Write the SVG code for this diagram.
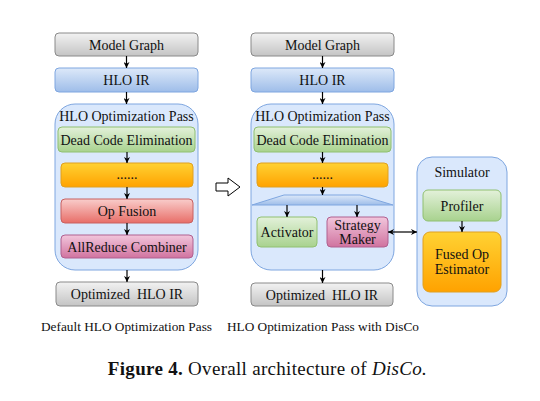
<svg xmlns="http://www.w3.org/2000/svg" width="540" height="401" viewBox="0 0 540 401">
<defs>
<linearGradient id="gGray" x1="0" y1="0" x2="0" y2="1"><stop offset="0" stop-color="#f2f2f2"/><stop offset="1" stop-color="#c4c4c4"/></linearGradient>
<linearGradient id="gBlue" x1="0" y1="0" x2="0" y2="1"><stop offset="0" stop-color="#dde9f9"/><stop offset="1" stop-color="#9ebde9"/></linearGradient>
<linearGradient id="gGreen" x1="0" y1="0" x2="0" y2="1"><stop offset="0" stop-color="#e3f1da"/><stop offset="1" stop-color="#a8d28e"/></linearGradient>
<linearGradient id="gOrange" x1="0" y1="0" x2="0" y2="1"><stop offset="0" stop-color="#ffd233"/><stop offset="1" stop-color="#ffa200"/></linearGradient>
<linearGradient id="gRed" x1="0" y1="0" x2="0" y2="1"><stop offset="0" stop-color="#f9cdcb"/><stop offset="1" stop-color="#e86e68"/></linearGradient>
<linearGradient id="gPink" x1="0" y1="0" x2="0" y2="1"><stop offset="0" stop-color="#f2c6dc"/><stop offset="1" stop-color="#d0739f"/></linearGradient>
<marker id="ah" viewBox="0 0 10 10" refX="10" refY="5" markerWidth="5" markerHeight="5" orient="auto-start-reverse"><path d="M0,0 L10,5 L0,10 L3,5 z" fill="#000"/></marker>
<style>
.gray{fill:url(#gGray);stroke:#8a8a8a;stroke-width:1}
.blue{fill:url(#gBlue);stroke:#7ea6e0;stroke-width:1}
.green{fill:url(#gGreen);stroke:#90c070;stroke-width:1}
.orange{fill:url(#gOrange);stroke:#e0a020;stroke-width:1}
.red{fill:url(#gRed);stroke:#c86060;stroke-width:1}
.pink{fill:url(#gPink);stroke:#b06090;stroke-width:1}
.cont{fill:#dae8fc;stroke:#7ea6e0;stroke-width:1}
.c{stroke:#000;stroke-width:1.2;fill:none;marker-end:url(#ah)}
</style>
</defs>
<g font-family="'Liberation Serif','Times New Roman',serif" fill="#111" text-anchor="middle" font-size="14">
<!-- Left column -->
<g id="L_model"><rect class="gray" x="55" y="33" width="143" height="23" rx="4"/><text x="126.5" y="49.5" font-family="'Liberation Serif',serif" font-size="14">Model Graph</text></g>
<g id="L_hlo"><rect class="blue" x="55" y="68" width="143" height="24" rx="4"/><text x="126.5" y="85" font-family="'Liberation Serif',serif" font-size="14">HLO IR</text></g>
<g id="L_pass"><rect class="cont" x="55" y="104" width="143" height="166" rx="20"/><text x="126.5" y="121" font-family="'Liberation Serif',serif" font-size="14">HLO Optimization Pass</text></g>
<g id="L_dce"><rect class="green" x="58" y="127" width="137" height="25" rx="4"/><text x="126.5" y="144.5" font-family="'Liberation Serif',serif" font-size="14">Dead Code Elimination</text></g>
<g id="L_dots"><rect class="orange" x="61" y="163" width="132" height="24" rx="4"/><text x="127" y="179" font-family="'Liberation Serif',serif" font-size="14">......</text></g>
<g id="L_fusion"><rect class="red" x="61" y="199" width="132" height="24" rx="4"/><text x="127" y="216" font-family="'Liberation Serif',serif" font-size="14">Op Fusion</text></g>
<g id="L_allreduce"><rect class="pink" x="61" y="235" width="132" height="23" rx="4"/><text x="127" y="251.5" font-family="'Liberation Serif',serif" font-size="14">AllReduce Combiner</text></g>
<g id="L_opt"><rect class="gray" x="56" y="282" width="142" height="24" rx="4"/><text x="127" y="299" font-family="'Liberation Serif',serif" font-size="14">Optimized&#160; HLO IR</text></g>
<text x="126.5" y="331" font-family="'Liberation Serif',serif" font-size="13.3">Default HLO Optimization Pass</text>

<!-- Hollow arrow -->
<g id="hollow_arrow"><path d="M216,183 L228,183 L228,178 L240,187 L228,196 L228,191 L216,191 Z" fill="#fff" stroke="#000" stroke-width="1"/></g>

<!-- Right column -->
<g id="R_model"><rect class="gray" x="251" y="33" width="143" height="23" rx="4"/><text x="322.5" y="49.5" font-family="'Liberation Serif',serif" font-size="14">Model Graph</text></g>
<g id="R_hlo"><rect class="blue" x="251" y="68" width="143" height="24" rx="4"/><text x="322.5" y="85" font-family="'Liberation Serif',serif" font-size="14">HLO IR</text></g>
<g id="R_pass"><rect class="cont" x="251" y="104" width="143" height="166" rx="20"/><text x="322.5" y="121" font-family="'Liberation Serif',serif" font-size="14">HLO Optimization Pass</text></g>
<g id="R_dce"><rect class="green" x="254" y="127" width="137" height="25" rx="4"/><text x="322.5" y="144.5" font-family="'Liberation Serif',serif" font-size="14">Dead Code Elimination</text></g>
<g id="R_dots"><rect class="orange" x="257" y="163" width="131" height="24" rx="4"/><text x="322.5" y="179" font-family="'Liberation Serif',serif" font-size="14">......</text></g>
<g id="R_split"><path d="M252,205 L284,195 L360,195 L393,205 Z" fill="url(#gBlue)" stroke="#7ea6e0" stroke-width="1"/></g>
<g id="R_activator"><rect class="green" x="257" y="217" width="60" height="30" rx="4"/><text x="287" y="237" font-family="'Liberation Serif',serif" font-size="14">Activator</text></g>
<g id="R_strategy"><rect class="pink" x="327" y="217" width="61" height="30" rx="4"/><text x="357.5" y="230" font-family="'Liberation Serif',serif" font-size="14">Strategy</text><text x="357.5" y="244" font-family="'Liberation Serif',serif" font-size="14">Maker</text></g>
<g id="R_opt"><rect class="gray" x="251" y="283" width="142" height="23" rx="4"/><text x="322" y="299.5" font-family="'Liberation Serif',serif" font-size="14">Optimized&#160; HLO IR</text></g>
<text x="323" y="331" font-family="'Liberation Serif',serif" font-size="13.3">HLO Optimization Pass with DisCo</text>

<!-- Simulator -->
<g id="S_sim"><rect class="cont" x="417" y="157" width="90" height="149" rx="15"/><text x="462" y="177" font-family="'Liberation Serif',serif" font-size="14">Simulator</text></g>
<g id="S_profiler"><rect class="green" x="423" y="190" width="78" height="31" rx="5"/><text x="462" y="210.5" font-family="'Liberation Serif',serif" font-size="14">Profiler</text></g>
<g id="S_fused"><rect class="orange" x="423" y="232" width="78" height="60" rx="7"/><text x="462" y="259" font-family="'Liberation Serif',serif" font-size="14">Fused Op</text><text x="462" y="274" font-family="'Liberation Serif',serif" font-size="14">Estimator</text></g>

<!-- Connectors -->
<g id="connectors">
<line class="c" x1="126.5" y1="56" x2="126.5" y2="68"/>
<line class="c" x1="126.5" y1="92" x2="126.5" y2="104"/>
<line class="c" x1="127" y1="152" x2="127" y2="163"/>
<line class="c" x1="127" y1="187" x2="127" y2="199"/>
<line class="c" x1="127" y1="223" x2="127" y2="235"/>
<line class="c" x1="127" y1="270" x2="127" y2="282"/>
<line class="c" x1="322.5" y1="56" x2="322.5" y2="68"/>
<line class="c" x1="322.5" y1="92" x2="322.5" y2="104"/>
<line class="c" x1="322.5" y1="152" x2="322.5" y2="163"/>
<line class="c" x1="322.5" y1="187" x2="322.5" y2="195"/>
<line class="c" x1="287" y1="205" x2="287" y2="217"/>
<line class="c" x1="357" y1="205" x2="357" y2="217"/>
<line class="c" x1="322.5" y1="270" x2="322.5" y2="283"/>
<line class="c" x1="388" y1="232" x2="417" y2="232" marker-start="url(#ah)"/>
<line class="c" x1="462" y1="221" x2="462" y2="232"/>
</g>

<!-- Figure caption -->
<text x="267.5" y="375" font-size="19" letter-spacing="0.3"><tspan font-weight="bold">Figure 4.</tspan> Overall architecture of <tspan font-style="italic">DisCo.</tspan></text>
</g>
</svg>
